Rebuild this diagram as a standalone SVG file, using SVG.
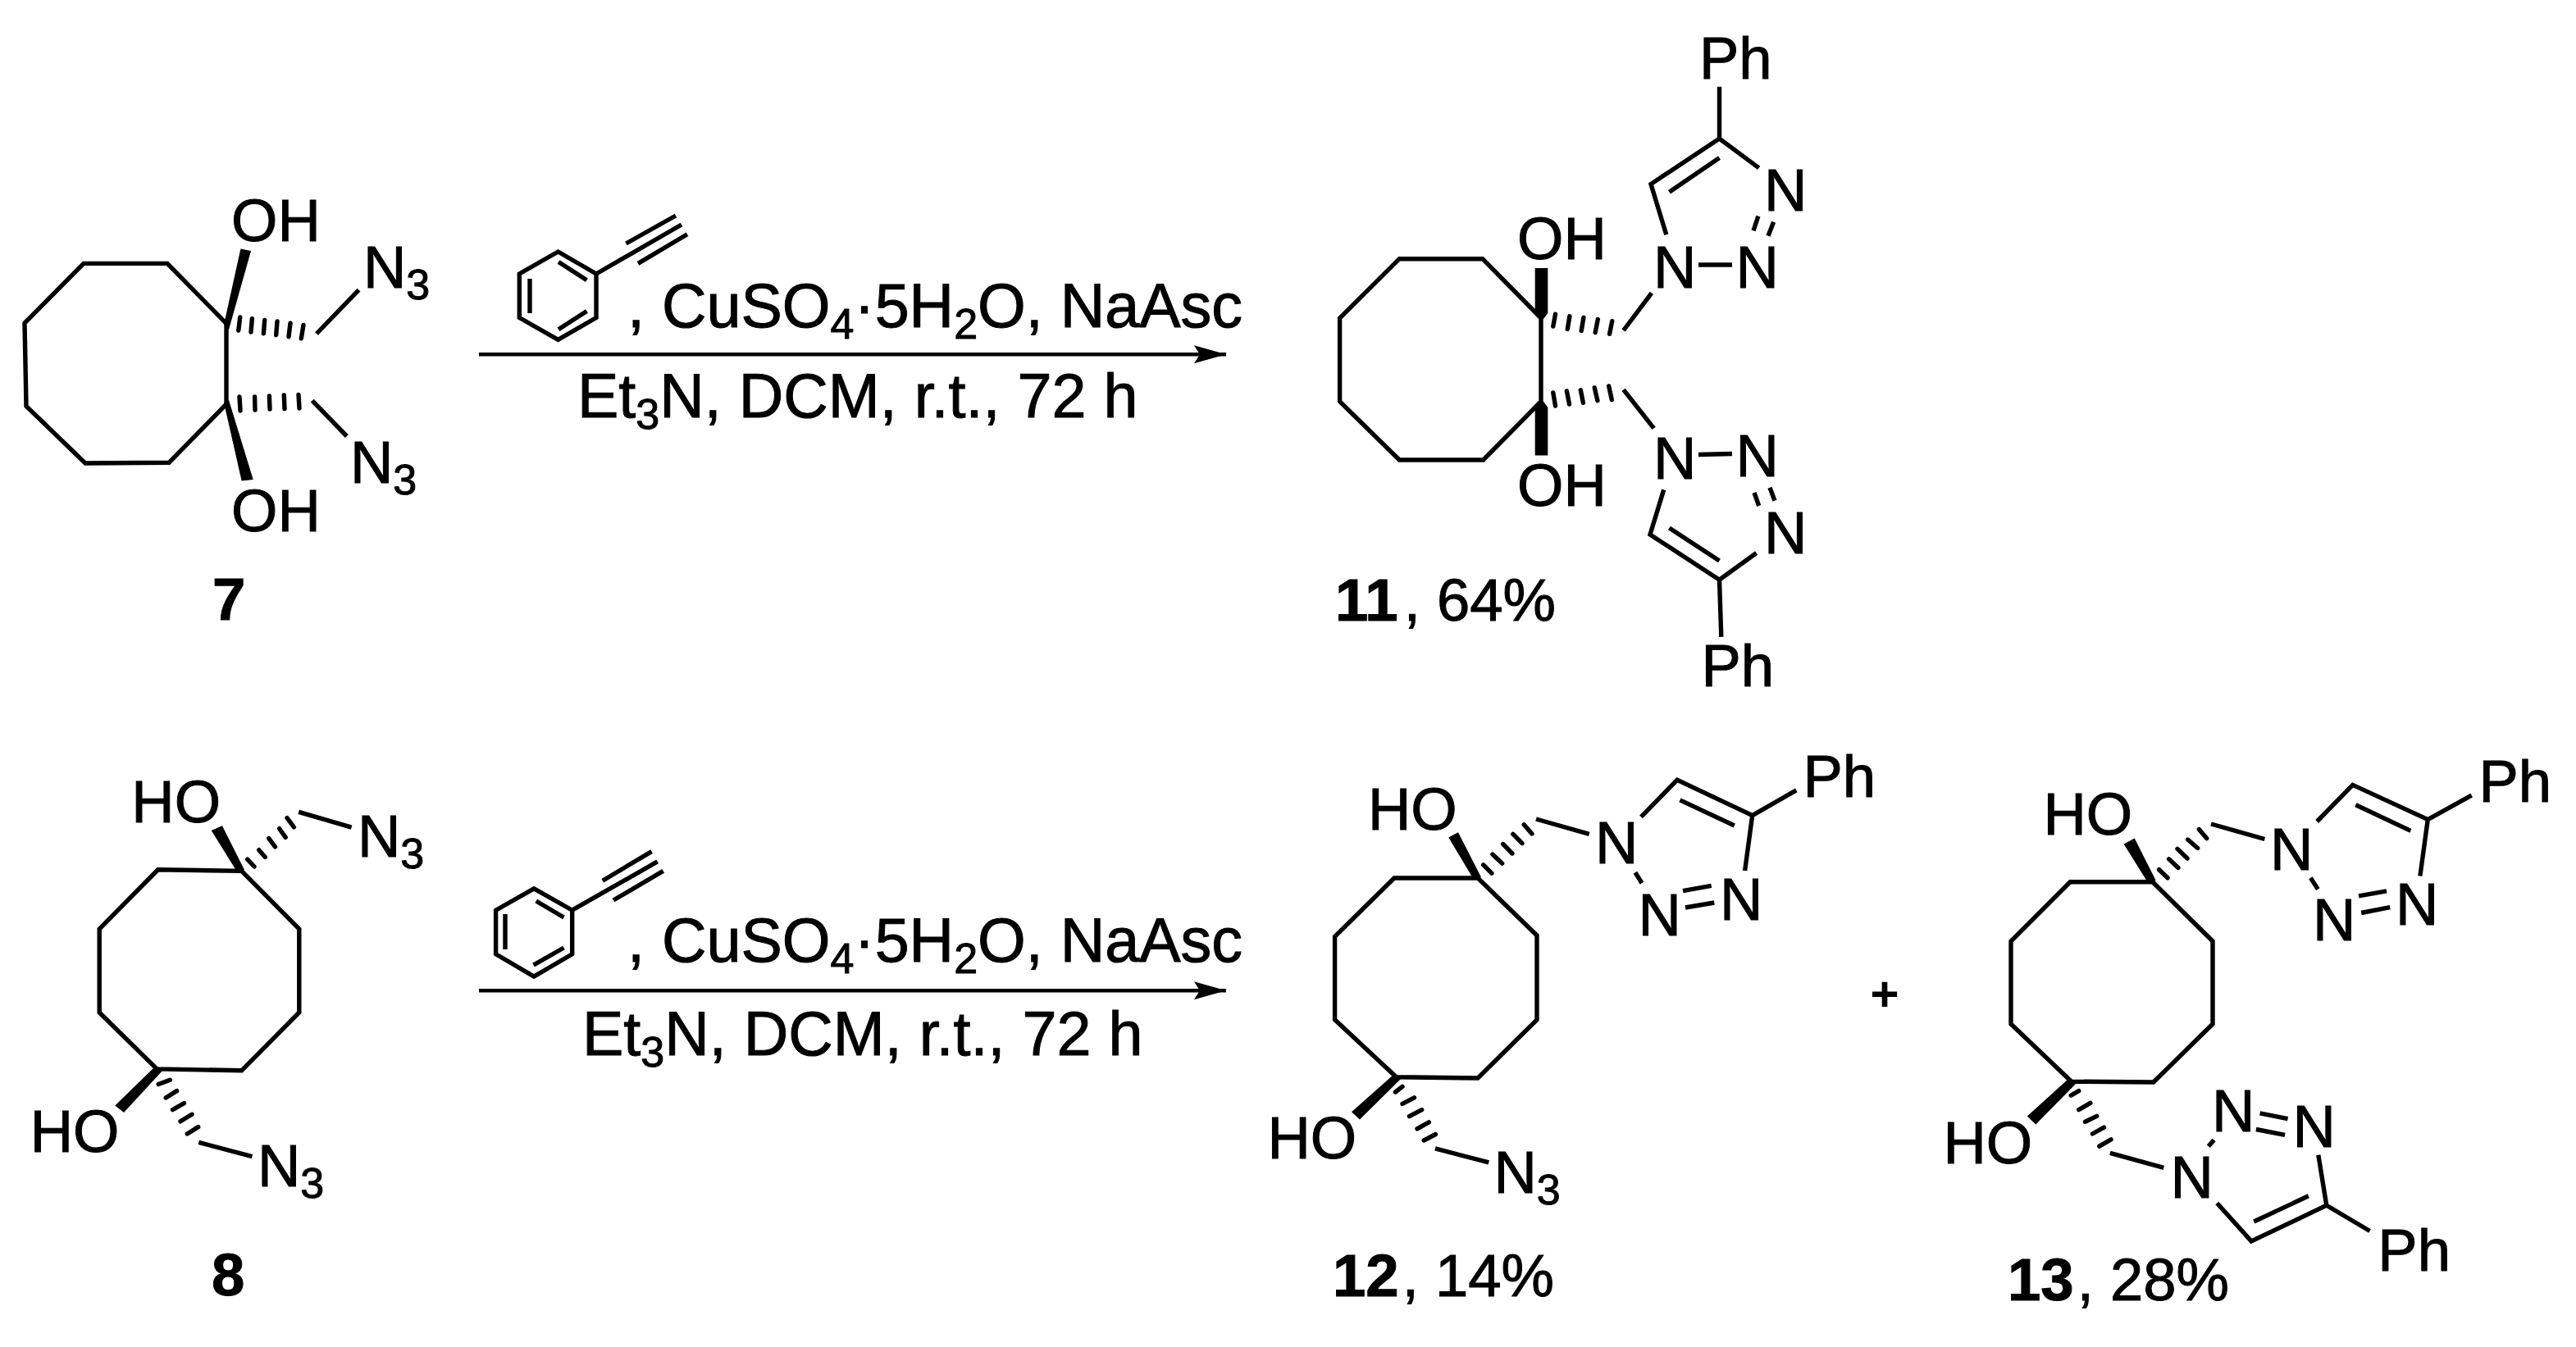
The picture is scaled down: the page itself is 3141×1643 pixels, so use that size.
<svg xmlns="http://www.w3.org/2000/svg" width="3141" height="1643" viewBox="0 0 3141 1643">
<style>
text{font-family:"Liberation Sans",Arial,sans-serif;font-size:72.5px;fill:#000;stroke:#000;stroke-width:1}
.rg{font-size:75.5px}
.sub{font-size:52px}
.b{font-weight:bold}
.bond{fill:none;stroke:#000;stroke-width:5.4;stroke-linejoin:miter}
.hash{fill:none;stroke:#000;stroke-width:5.4;stroke-linecap:round}
.wedge{fill:#000;stroke:none}
.arrow{fill:none;stroke:#000;stroke-width:4.6}
</style>
<defs>
<marker id="head" markerUnits="userSpaceOnUse" markerWidth="42" markerHeight="24" refX="39" refY="12" orient="auto">
<path d="M0 1L39 12L0 23L7 12Z" fill="#000"/>
</marker>
</defs>
<rect width="3141" height="1643" fill="#fff"/>

<g id="compound-7">
<path class="bond" d="M276 394.6L204 321.4H102L30 394L32 495.4L104 565L206 564.3L276 493Z"/>
<path class="wedge" d="M273 396L293.4 303.6L306 306L279 402Z"/>
<path class="hash" d="M292.7 387L290.8 403M307.4 388.6L306 405M322.7 390.4L321.4 406.8M338 392L336.7 408.6M354 394.3L352 410.7M370 396.4L367.3 412.9"/>
<path class="bond" d="M386 407L437.5 353.6"/>
<path class="wedge" d="M273 491L294.6 586.4L308.7 585L279 488Z"/>
<path class="hash" d="M292 484L293 501M310.6 484L311 500M328.4 483L329 499M346.3 482L347 498.6M364 481.4L365 498"/>
<path class="bond" d="M380.7 488.6L422.8 532"/>
<text x="282" y="293.5">OH</text>
<text x="443" y="350.7">N<tspan class="sub" dy="14">3</tspan></text>
<text x="427" y="589.3">N<tspan class="sub" dy="14">3</tspan></text>
<text x="282" y="648">OH</text>
<text class="b" x="259" y="756">7</text>
</g>

<g id="reagent-top">
<path class="bond" d="M680.5 307L727 334V387.5L680.5 414.3L633.3 387.5V334Z"/>
<path class="bond" d="M681 319.6L715.5 341.8M715.5 379.6L681 401.8M646 340V382"/>
<path class="bond" d="M727 334L831 274M763.4 297L824 263M778 321.4L838 285.7"/>
<text class="rg" x="765" y="399">, CuSO<tspan class="sub" dy="14">4</tspan><tspan dy="-14">·5H</tspan><tspan class="sub" dy="14">2</tspan><tspan dy="-14">O, NaAsc</tspan></text>
<text class="rg" x="704" y="509">Et<tspan class="sub" dy="14">3</tspan><tspan dy="-14">N, DCM, r.t., 72 h</tspan></text>
</g>

<g id="compound-11">
<path class="bond" d="M1879 388L1807.7 315.7H1706.3L1633.6 388V489.7L1706.3 561H1808.6L1879 489.7Z"/>
<path class="wedge" d="M1871.7 327H1887.3V382L1882 389H1876.5L1871.7 379Z"/>
<path class="wedge" d="M1871.7 555.6H1887.3V497L1882 489.7H1876.5L1871.7 500Z"/>
<path class="hash" d="M1896.5 383.2L1893.8 398.1M1913.9 385.8L1911.3 401.4M1930.9 387.4L1928.2 403.5M1948.3 389.6L1945.2 405.6M1965.7 391.7L1962.6 407.3"/>
<path class="hash" d="M1893.8 479L1896.5 495M1910.4 476.9L1913.5 493M1927.3 475.8L1930.4 491.3M1944.3 473L1947.9 488.7M1961.7 471L1965.3 487.6"/>
<path class="bond" d="M1979.6 403L2013.9 357.4M1979.6 475.3L2016.6 522.4"/>
<path class="bond" d="M2071 323H2112M2138 281.4L2143.9 263.7M2156 287.8L2162.6 270.7M2144.7 204.8L2096.5 169L2013 224.6L2031.8 286.2M2096.5 105.7V169M2096.5 192.5L2035.4 234.2"/>
<path class="bond" d="M2071 554.5L2112 553.5M2139 601L2144.7 617M2158 594.7L2164 610.8M2141.6 674.5L2096.5 707.2L2012 652L2028.7 597.4M2096.5 707.2L2098.8 776.8M2096.5 684L2035.4 644"/>
<text x="1850" y="315.7">OH</text>
<text x="1850" y="617">OH</text>
<text x="2016" y="350.5">N</text><text x="2116.5" y="350.5">N</text><text x="2151" y="257.3">N</text>
<text x="2072" y="96">Ph</text>
<text x="2016" y="583.5">N</text><text x="2116.5" y="580.8">N</text><text x="2151" y="675">N</text>
<text x="2074.5" y="836.8">Ph</text>
<text x="1628" y="756.5"><tspan class="b">11</tspan><tspan dx="7">, 64%</tspan></text>
</g>

<g id="compound-8">
<path class="bond" d="M192.6 1060.8L294.6 1062.4L364.8 1133V1235L294.6 1305.8L191.3 1303.9L121.2 1235V1133Z"/>
<path class="wedge" d="M290 1065L257.7 1013L271 1007.3L298 1061Z"/>
<path class="hash" d="M301.7 1048.2L310 1057M315.7 1036.7L323.3 1045.5M327.8 1022.6L335.5 1032.9M340.6 1010.7L348.2 1021.4M350 997.7L358.4 1008.8"/>
<path class="bond" d="M364.2 990.4L428.6 1009.2"/>
<path class="wedge" d="M189 1301L140.3 1348.6L151 1357L199 1305Z"/>
<path class="hash" d="M193.2 1322.6L207.3 1317.2M202.2 1339L215.6 1330.6M210.5 1353.6L224.5 1345.6M220 1367.8L234 1359.3M228.3 1383L241.7 1374.6"/>
<path class="bond" d="M242.3 1393.4L307.4 1410.6"/>
<text x="160.3" y="1003.4">HO</text>
<text x="436" y="1045">N<tspan class="sub" dy="14">3</tspan></text>
<text x="36.7" y="1405.3">HO</text>
<text x="314" y="1447.4">N<tspan class="sub" dy="14">3</tspan></text>
<text class="b" x="258" y="1580">8</text>
</g>

<g id="reagent-bottom">
<path class="bond" d="M651.1 1083.8L697.7 1110.2V1163.8L651.1 1191L604.6 1163.8V1110.2Z"/>
<path class="bond" d="M653.7 1099L687.5 1119M687.5 1156L650.5 1177.2M616 1115V1158"/>
<path class="bond" d="M697.7 1110.2L801.7 1050.9M734.7 1074.2L794.6 1038.6M748 1098L808.7 1062.4"/>
<text class="rg" x="765" y="1172.6">, CuSO<tspan class="sub" dy="14">4</tspan><tspan dy="-14">·5H</tspan><tspan class="sub" dy="14">2</tspan><tspan dy="-14">O, NaAsc</tspan></text>
<text class="rg" x="710" y="1286.6">Et<tspan class="sub" dy="14">3</tspan><tspan dy="-14">N, DCM, r.t., 72 h</tspan></text>
</g>

<g id="compound-12">
<path class="bond" d="M1700 1071H1802L1874 1141V1243.8L1802 1315L1702.6 1313.8L1627.6 1243.8V1142.4Z"/>
<path class="wedge" d="M1797 1073L1766.3 1021.4L1778 1015.2L1806 1070Z"/>
<path class="hash" d="M1808.7 1054.9L1818.9 1065.2M1819.9 1042L1831.6 1053.1M1832.7 1029.5L1843.9 1041M1844.9 1017.4L1856 1028.6M1858.2 1005.8L1867.9 1017"/>
<path class="bond" d="M1873 999L1937.8 1017.4"/>
<path class="bond" d="M2001 996.4L2045 951.3L2136.7 994.6L2127.6 1062M2048.5 975.9L2114.8 1007M2136.7 994.6L2190.3 963.8M2052 1086.6L2086.7 1080.4M2055 1107L2090.3 1101M1993.9 1064.3L2002 1077.2"/>
<path class="wedge" d="M1699 1311L1648 1356.3L1658 1365.6L1708 1316Z"/>
<path class="hash" d="M1701.5 1332L1710 1325.4M1710 1346.4L1724.5 1338.8M1718.4 1361.6L1733.7 1353.6M1728 1376.8L1742.3 1368.8M1736.2 1391L1750.5 1383.5"/>
<path class="bond" d="M1750 1400.9L1815.3 1417.9"/>
<text x="1668" y="1011.6">HO</text>
<text x="1945" y="1053">N</text><text x="2097" y="1121.9">N</text><text x="1997.6" y="1141">N</text>
<text x="2198.5" y="972.3">Ph</text>
<text x="1545.5" y="1412.5">HO</text>
<text x="1821.5" y="1455">N<tspan class="sub" dy="14">3</tspan></text>
<text x="1625" y="1580.8"><tspan class="b">12</tspan><tspan dx="4">, 14%</tspan></text>
</g>

<g id="plus"><text class="b" x="2298" y="1233" text-anchor="middle" style="font-size:60px;stroke:none">+</text></g>

<g id="compound-13">
<path class="bond" d="M2524.2 1075.8H2624.7L2698 1148V1249L2625.8 1320L2525.8 1319.2L2452 1249V1148Z"/>
<path class="wedge" d="M2619.7 1077.8L2589.6 1029.5L2602.7 1022.6L2628.7 1074Z"/>
<path class="hash" d="M2632.6 1060.7L2643 1070.8M2644.6 1047.8L2656 1058.4M2655 1035.4L2667 1047M2667.6 1024L2679.7 1034.5M2681.3 1011.6L2690.7 1022.6"/>
<path class="bond" d="M2696 1005L2761.4 1023.5"/>
<path class="bond" d="M2825.2 1002L2868.7 957.4L2960.3 999.6L2950.9 1068.5M2872.4 981.7L2939.4 1013.4M2960.3 999.6L3013.7 970.2M2876 1092.8L2910 1086.9M2879.2 1113.5L2914.2 1106.6M2817.4 1070.8L2826.3 1084.6"/>
<path class="wedge" d="M2522 1316L2471.8 1361.4L2482.3 1371.5L2532 1321Z"/>
<path class="hash" d="M2525.2 1336.2L2534.7 1330.7M2534.7 1353.6L2548.8 1345.4M2542.5 1368.3L2556.7 1361.4M2551.4 1383L2565.5 1375.2M2559.8 1398.2L2574 1389.9"/>
<path class="bond" d="M2572.9 1406.4L2638.3 1424.3"/>
<path class="bond" d="M2692.8 1398.2L2699.6 1390.4M2755.6 1357.8L2789.6 1364.6M2750.9 1377.5L2786 1384.4M2826.8 1408.7L2836.8 1470.3L2745.1 1513.9L2703.3 1467.5M2814.8 1458.8L2748.3 1490M2836.8 1470.3L2889.6 1501.5"/>
<text x="2491.5" y="1018">HO</text>
<text x="2768" y="1060.7">N</text><text x="2921" y="1128.2">N</text><text x="2820" y="1147">N</text>
<text x="3022.5" y="978">Ph</text>
<text x="2369.5" y="1418.8">HO</text>
<text x="2646.4" y="1461">N</text><text x="2697" y="1379.8">N</text><text x="2795.6" y="1399">N</text>
<text x="2899.3" y="1549.7">Ph</text>
<text x="2448" y="1586.4"><tspan class="b">13</tspan><tspan dx="4">, 28%</tspan></text>
</g>

<g id="connectors">
<path class="arrow" d="M584 432.2H1495" marker-end="url(#head)"/>
<path class="arrow" d="M584 1208.2H1495" marker-end="url(#head)"/>
</g>
</svg>
